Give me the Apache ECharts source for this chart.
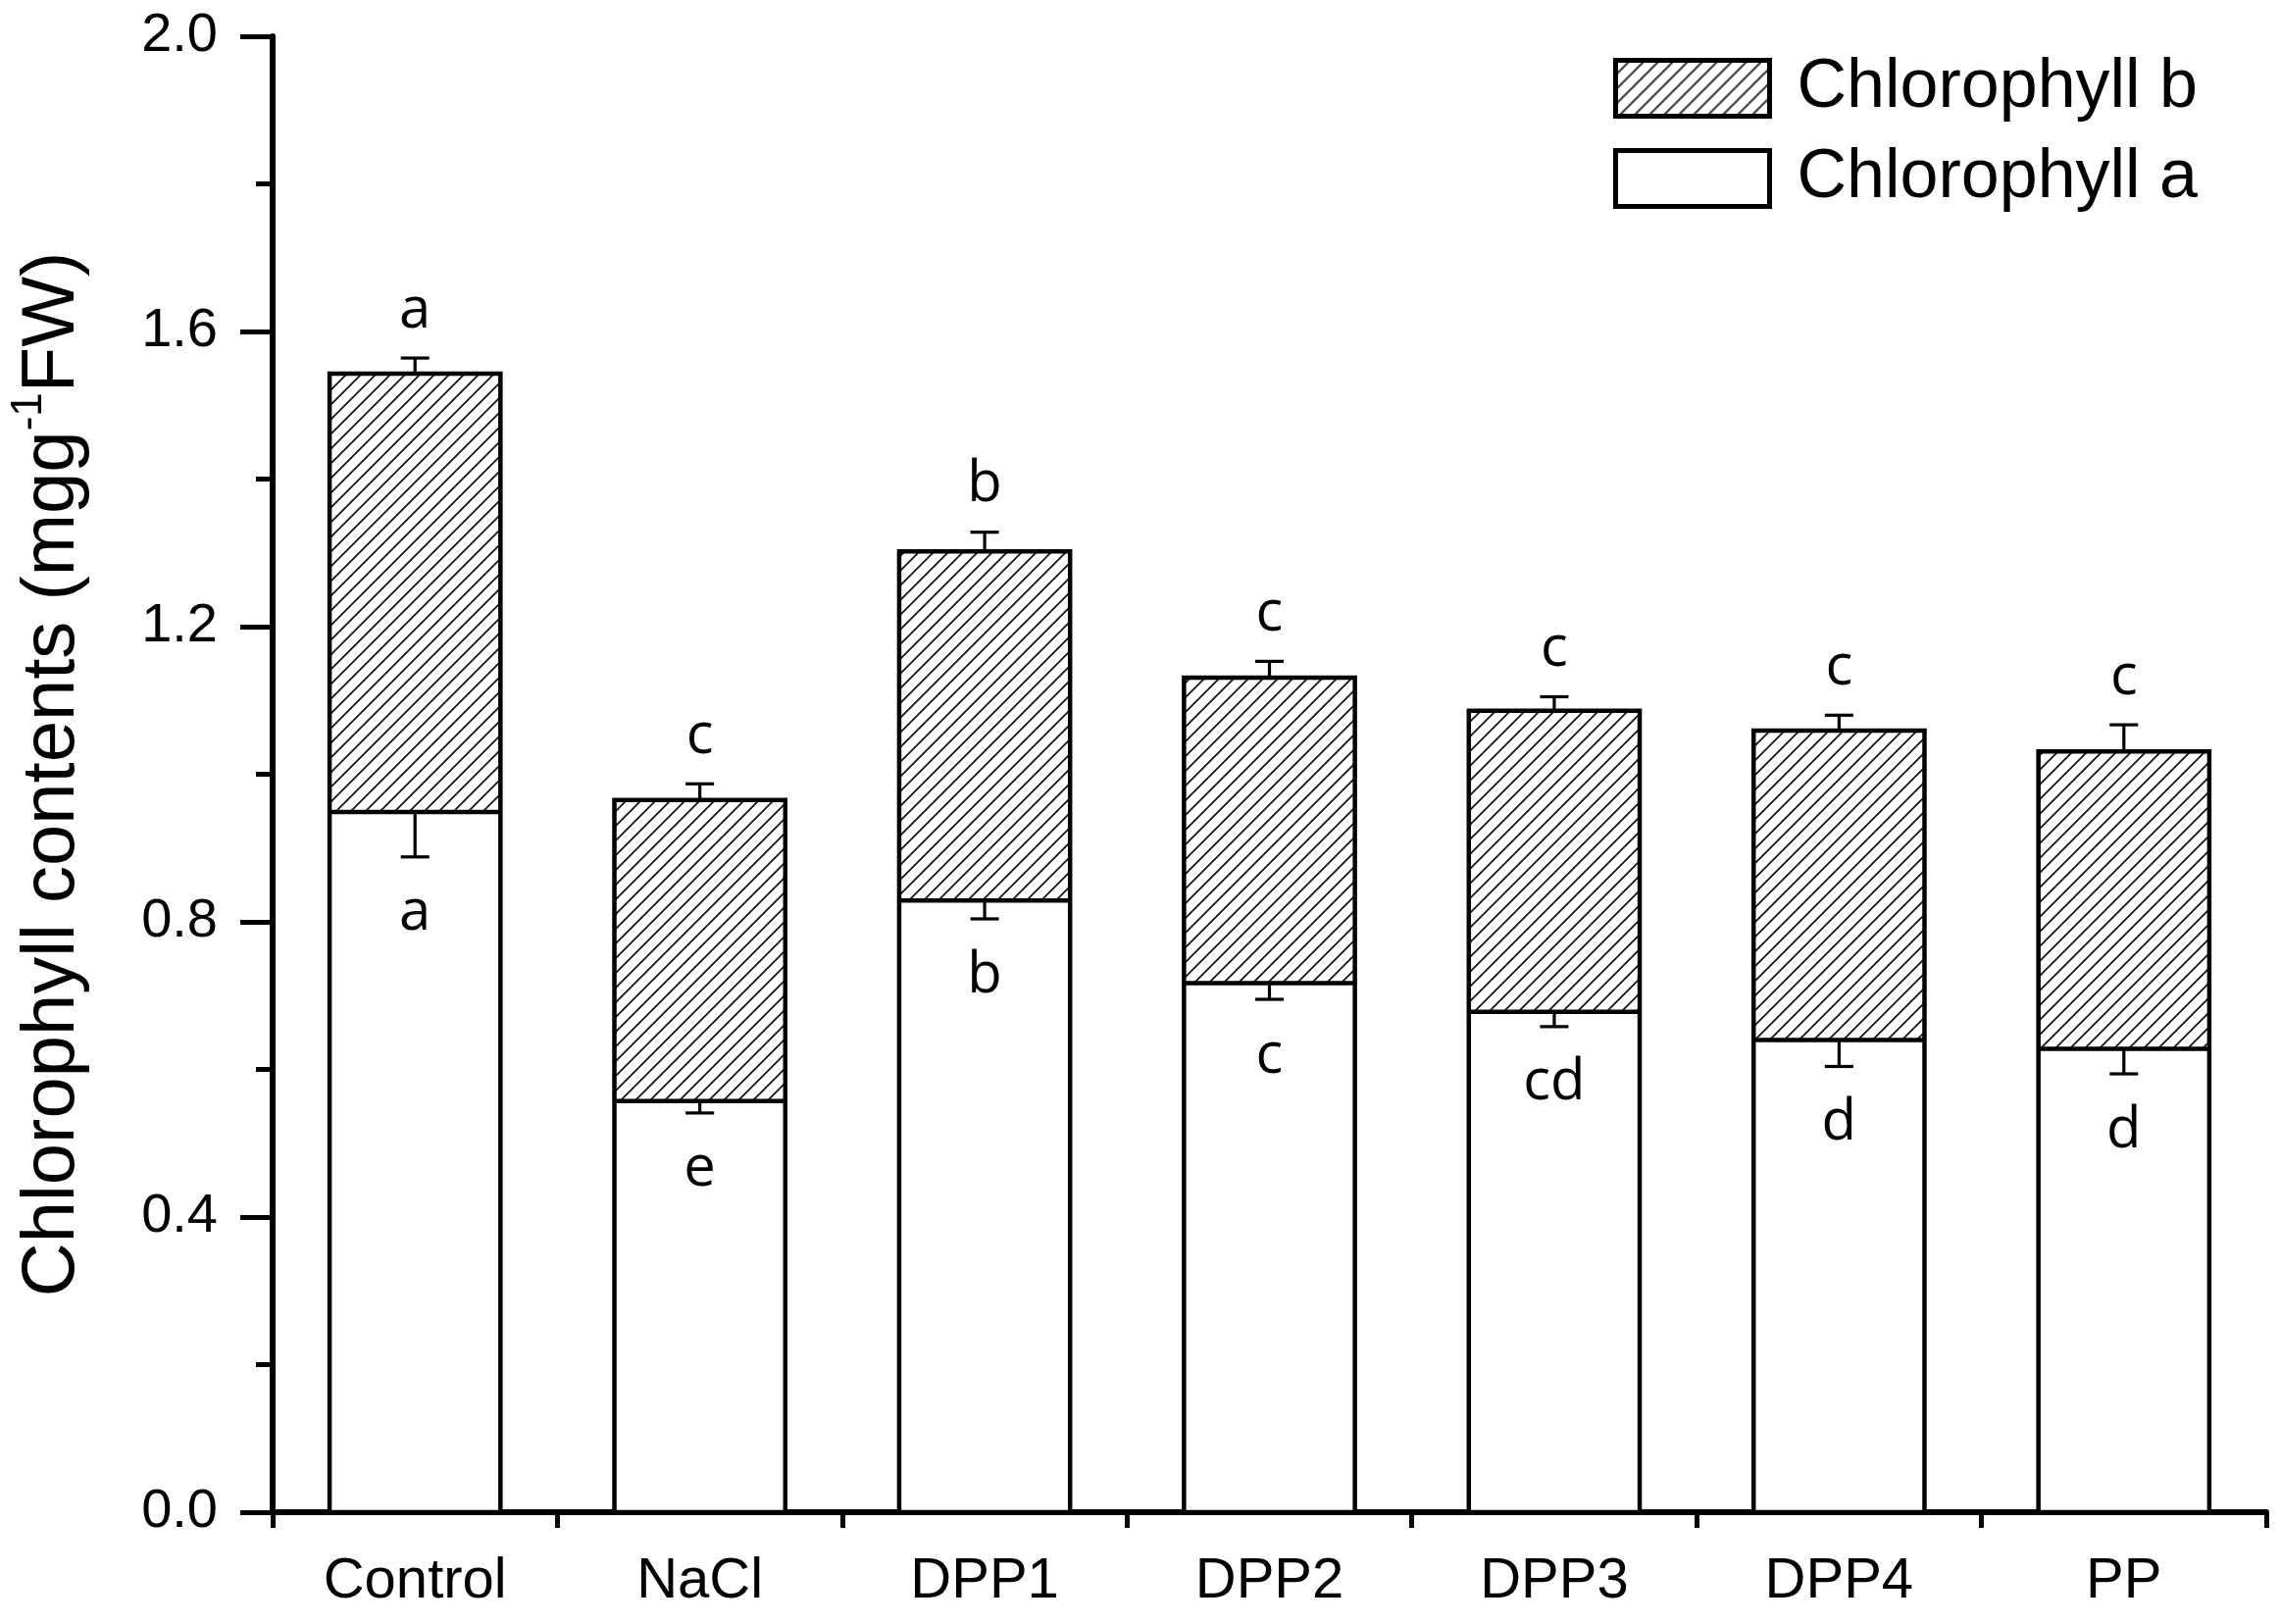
<!DOCTYPE html>
<html>
<head>
<meta charset="utf-8">
<script src="https://cdn.jsdelivr.net/npm/echarts@6/dist/echarts.min.js"></script>
<style>
html,body{margin:0;padding:0;background:#fff;}
#chart{width:2325px;height:1656px;}
</style>
</head>
<body>
<div id="chart"></div>
<script>
const categories = ['Control', 'NaCl', 'DPP1', 'DPP2', 'DPP3', 'DPP4', 'PP'];
const chlA = [0.949, 0.557, 0.829, 0.717, 0.678, 0.640, 0.628];
const chlB = [0.594, 0.408, 0.473, 0.414, 0.408, 0.419, 0.403];
const chlAErr = [0.061, 0.016, 0.025, 0.022, 0.020, 0.036, 0.034];
const totalErr = [0.021, 0.022, 0.026, 0.022, 0.019, 0.021, 0.036];
const letterA = ['a', 'e', 'b', 'c', 'cd', 'd', 'd'];
const letterTotal = ['a', 'c', 'b', 'c', 'c', 'c', 'c'];
const yMin = 0, yMax = 2.0, yInterval = 0.4;

// hatch pattern
const tile = document.createElement('canvas');
const T = 15;
tile.width = T; tile.height = T;
const g = tile.getContext('2d');
g.fillStyle = '#fff';
g.fillRect(0, 0, T, T);
g.strokeStyle = '#111';
g.lineWidth = 1.7;
g.beginPath();
g.moveTo(-2, T + 2); g.lineTo(T + 2, -2);
g.moveTo(-2, 2); g.lineTo(2, -2);
g.moveTo(T - 2, T + 2); g.lineTo(T + 2, T - 2);
g.stroke();
const hatch = { image: tile, repeat: 'repeat' };

const errData = categories.map((c, i) => [i, chlA[i], chlB[i], chlAErr[i], totalErr[i]]);

const chart = echarts.init(document.getElementById('chart'), null, { renderer: 'canvas' });
const black = '#000';
const barRatio = 0.6;
const option = {
  backgroundColor: '#fff',
  animation: false,
  grid: { left: 267, right: 14, top: 37, bottom: 114, containLabel: false },
  legend: {
    data: ['Chlorophyll b', 'Chlorophyll a'],
    orient: 'vertical',
    left: 1640,
    top: 50,
    icon: 'rect',
    itemWidth: 157,
    itemHeight: 57,
    itemGap: 22,
    selectedMode: false,
    itemStyle: { borderColor: black, borderWidth: 5 },
    textStyle: { fontFamily: 'Liberation Sans', fontSize: 70, color: black, padding: [0, 0, 0, 23] }
  },
  xAxis: [{
    type: 'category',
    data: categories,
    axisLine: { lineStyle: { color: black, width: 6 } },
    axisTick: { alignWithLabel: true, length: 33, lineStyle: { color: black, width: 5 } },
    axisLabel: { fontFamily: 'Liberation Sans', fontSize: 58, color: black, margin: 42 },
    splitLine: { show: false }
  }, {
    type: 'category',
    data: categories,
    position: 'bottom',
    axisLine: { show: false },
    axisTick: { show: true, length: 16, lineStyle: { color: black, width: 5 } },
    axisLabel: { show: false },
    splitLine: { show: false }
  }],
  yAxis: {
    type: 'value',
    min: yMin, max: yMax, interval: yInterval,
    axisLine: { show: true, lineStyle: { color: black, width: 6 } },
    axisTick: { show: true, length: 33, lineStyle: { color: black, width: 5 } },
    minorTick: { show: true, splitNumber: 2, length: 17, lineStyle: { color: black, width: 5 } },
    splitLine: { show: false },
    axisLabel: { fontFamily: 'Liberation Sans', fontSize: 56, color: black, margin: 56, formatter: v => v.toFixed(1) },
    name: '{m|Chlorophyll contents (mgg}{s|-1}{m|FW)}',
    nameLocation: 'middle',
    nameRotate: 90,
    nameGap: 186,
    nameTextStyle: {
      rich: {
        m: { fontFamily: 'Liberation Sans', fontSize: 76, color: black, verticalAlign: 'bottom', lineHeight: 84 },
        s: { fontFamily: 'Liberation Sans', fontSize: 44, color: black, verticalAlign: 'top', lineHeight: 84 }
      }
    }
  },
  series: [{
    name: 'Chlorophyll a',
    type: 'bar',
    stack: 'chl',
    barWidth: (barRatio * 100) + '%',
    data: chlA,
    itemStyle: { color: '#fff', borderWidth: 0 }
  }, {
    name: 'Chlorophyll b',
    type: 'bar',
    stack: 'chl',
    barWidth: (barRatio * 100) + '%',
    data: chlB,
    itemStyle: { color: hatch, borderWidth: 0 }
  }, {
    name: 'err',
    type: 'custom',
    z: 5,
    data: errData,
    renderItem: function (params, api) {
      const i = api.value(0);
      const a = api.value(1), b = api.value(2), ea = api.value(3), et = api.value(4);
      const p0 = api.coord([i, 0]);
      const pA = api.coord([i, a]);
      const pAl = api.coord([i, a - ea]);
      const pT = api.coord([i, a + b]);
      const pTe = api.coord([i, a + b + et]);
      const w = api.size([1, 0])[0] * barRatio;
      const cap = 14.5;
      const ls = { stroke: black, lineWidth: 3.2 };
      const bs = { fill: null, stroke: black, lineWidth: 4.5 };
      const font = '58px "Open Sans"';
      return {
        type: 'group',
        children: [
          { type: 'rect', shape: { x: pT[0] - w / 2, y: pT[1], width: w, height: p0[1] - pT[1] }, style: bs },
          { type: 'line', shape: { x1: pA[0] - w / 2, y1: pA[1], x2: pA[0] + w / 2, y2: pA[1] }, style: bs },
          { type: 'line', shape: { x1: pT[0], y1: pT[1], x2: pTe[0], y2: pTe[1] }, style: ls },
          { type: 'line', shape: { x1: pTe[0] - cap, y1: pTe[1], x2: pTe[0] + cap, y2: pTe[1] }, style: ls },
          { type: 'line', shape: { x1: pA[0], y1: pA[1], x2: pAl[0], y2: pAl[1] }, style: ls },
          { type: 'line', shape: { x1: pAl[0] - cap, y1: pAl[1], x2: pAl[0] + cap, y2: pAl[1] }, style: ls },
          { type: 'text', x: pTe[0], y: pTe[1] - 48, style: { text: letterTotal[i], font: font, fill: black, align: 'center', verticalAlign: 'middle' } },
          { type: 'text', x: pAl[0], y: pAl[1] + 58, style: { text: letterA[i], font: font, fill: black, align: 'center', verticalAlign: 'middle' } }
        ]
      };
    }
  }]
};
chart.setOption(option);
</script>
</body>
</html>
